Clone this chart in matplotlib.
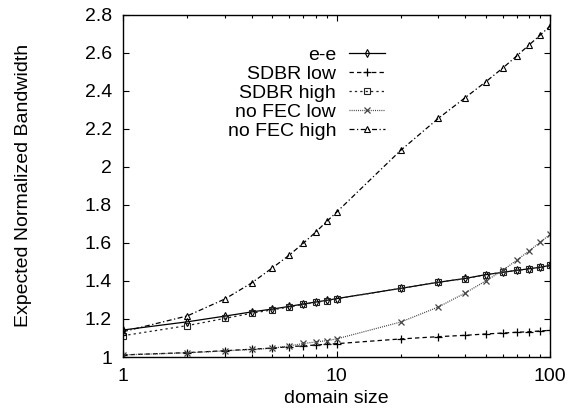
import numpy as np
import matplotlib
matplotlib.use("Agg")
import matplotlib.pyplot as plt
from matplotlib.ticker import FixedLocator, FormatStrFormatter, NullFormatter

plt.rcParams['font.family'] = ['Liberation Sans', 'DejaVu Sans']
plt.rcParams['font.size'] = 14

# domain sizes
x = [1, 2, 3, 4, 5, 6, 7, 8, 9, 10, 20, 30, 40, 50, 60, 70, 80, 90, 100]

ee = [1.142, 1.185, 1.215, 1.237, 1.252, 1.266, 1.279, 1.289, 1.298, 1.307,
      1.361, 1.393, 1.413, 1.433, 1.445, 1.456, 1.464, 1.472, 1.482]
sdbr_low = [1.011, 1.023, 1.033, 1.041, 1.047, 1.054, 1.059, 1.063, 1.067, 1.070,
            1.095, 1.107, 1.114, 1.121, 1.126, 1.130, 1.133, 1.137, 1.140]
sdbr_high = [1.112, 1.165, 1.203, 1.230, 1.248, 1.263, 1.277, 1.287, 1.297, 1.306,
             1.361, 1.393, 1.412, 1.433, 1.445, 1.456, 1.463, 1.472, 1.482]
nofec_low = [1.011, 1.022, 1.032, 1.040, 1.046, 1.058, 1.071, 1.079, 1.086, 1.095,
             1.184, 1.263, 1.336, 1.400, 1.455, 1.510, 1.559, 1.603, 1.645]
nofec_high = [1.133, 1.216, 1.305, 1.389, 1.468, 1.535, 1.599, 1.657, 1.713, 1.761,
              2.087, 2.255, 2.363, 2.447, 2.519, 2.584, 2.642, 2.693, 2.740]

labels = ["e-e", "SDBR low", "SDBR high", "no FEC low", "no FEC high"]
yticks = [1, 1.2, 1.4, 1.6, 1.8, 2, 2.2, 2.4, 2.6, 2.8]

fig = plt.figure(figsize=(5.8, 4.09), dpi=100)
ax = fig.add_axes([123/580, 1-357/409, 427/580, 342.3/409])

lw = 0.9
ax.plot(x, ee, color='black', lw=lw, ls='-', marker='d', ms=4, mfc='none', mew=0.8, label=labels[0])
ax.plot(x, sdbr_low, color='black', lw=lw, ls=(0, (3.5, 2.5)), marker='+', ms=6, mew=0.9, label=labels[1])
ax.plot(x, sdbr_high, color='#222222', lw=lw, ls=(0, (1.8, 2.5)), marker='s', ms=4, mfc='none', mew=0.8, label=labels[2])
ax.plot(x, nofec_low, color='#444444', lw=lw, ls=(0, (0.8, 0.9)), marker='x', ms=4.5, mew=0.9, label=labels[3])
ax.plot(x, nofec_high, color='black', lw=lw, ls=(0, (4, 2, 1, 2)), marker='^', ms=4.5, mfc='none', mew=0.8, label=labels[4])

ax.set_xscale('log')
ax.set_xlim(1, 100)
ax.set_ylim(1, 2.8)
ax.xaxis.set_major_locator(FixedLocator([1, 10, 100]))
ax.xaxis.set_major_formatter(FormatStrFormatter('%g'))
ax.xaxis.set_minor_locator(FixedLocator([2, 3, 4, 5, 6, 7, 8, 9, 20, 30, 40, 50, 60, 70, 80, 90]))
ax.xaxis.set_minor_formatter(NullFormatter())
ax.yaxis.set_major_locator(FixedLocator(yticks))
ax.yaxis.set_major_formatter(FormatStrFormatter('%g'))

ax.tick_params(which='both', direction='in', top=True, right=True, width=0.8)
ax.tick_params(which='major', length=4.2, pad=8)
ax.tick_params(which='minor', length=2.3)
for s in ax.spines.values():
    s.set_linewidth(1.0)

ax.set_xlabel("domain size")
ax.set_ylabel("Expected Normalized Bandwidth")
ax.xaxis.set_label_coords(0.5, -0.096)
ax.yaxis.set_label_coords(-0.213, 0.5)

ax.legend(loc='upper right', bbox_to_anchor=(385/580, 1-46/409), bbox_transform=fig.transFigure,
          frameon=False, markerfirst=False, borderpad=0, borderaxespad=0,
          handlelength=1.85, handletextpad=0.67, labelspacing=0.07, numpoints=1)

fig.savefig("out.png", dpi=100)
